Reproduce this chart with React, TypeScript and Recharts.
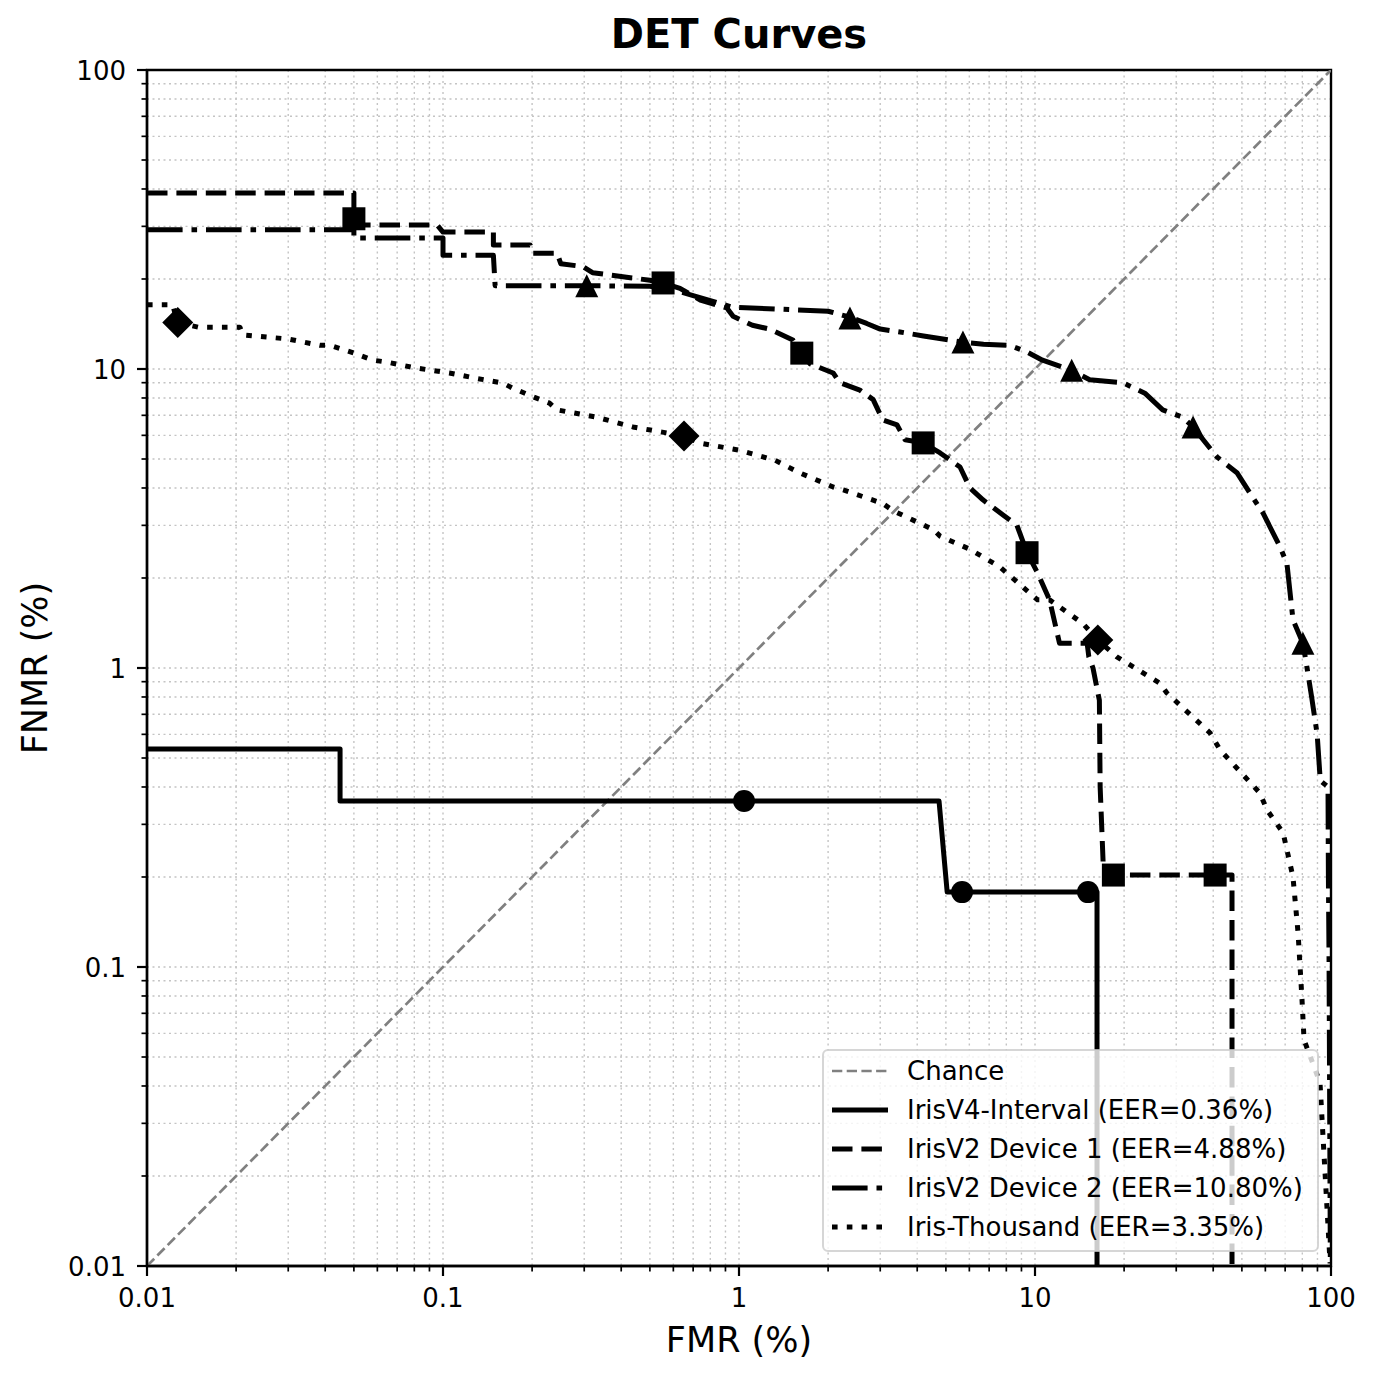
import {
  CartesianGrid,
  ComposedChart,
  Line,
  ReferenceArea,
  Scatter,
  XAxis,
  YAxis,
} from "recharts";

const W = 1378;
const H = 1379;
const FONT = "DejaVu Sans";

// axis ticks (log, both axes the same)
const majorTicks = [0.01, 0.1, 1, 10, 100];
const tickLabels = ["0.01", "0.1", "1", "10", "100"];
const minorSteps = [2, 3, 4, 5, 6, 7, 8, 9];

// chance diagonal
const chanceX = [0.01, 100];
const chanceY = [0.01, 100];

// IrisV4-Interval
const v4X = [0.01, 0.0449, 0.0449, 4.74, 5.05, 16.2, 16.2];
const v4Y = [0.536, 0.536, 0.359, 0.359, 0.178, 0.178, 0.01];
const v4MarkX = [1.04, 5.67, 15.1];
const v4MarkY = [0.359, 0.178, 0.178];

// IrisV2 Device 1
const d1X = [
  0.01, 0.05, 0.05, 0.0955, 0.1, 0.148, 0.148, 0.197, 0.2, 0.243, 0.25, 0.297, 0.32, 0.5,
  0.554, 0.632, 0.74, 0.91, 0.955, 1.11, 1.27, 1.52, 1.63, 1.74, 2.08, 2.19, 2.56, 2.84,
  3.06, 3.42, 3.64, 4.19, 4.78, 5.58, 6.03, 6.67, 7.8, 8.69, 9.4, 10.2, 11.2, 12.1, 15.0,
  15.2, 15.7, 16.5, 16.6, 17.0, 17.3, 40.6, 46.3, 46.3,
];
const d1Y = [
  38.8, 38.8, 30.3, 30.3, 28.7, 28.7, 26.0, 26.0, 24.4, 24.4, 22.5, 22.0, 21.0, 19.8,
  19.4, 18.6, 17.0, 16.0, 15.0, 14.0, 13.6, 12.5, 11.3, 10.4, 9.7, 9.0, 8.5, 7.9,
  6.75, 6.5, 5.8, 5.66, 5.24, 4.7, 4.0, 3.65, 3.25, 3.0, 2.43, 2.08, 1.69, 1.21, 1.21,
  1.09, 1.0, 0.78, 0.4, 0.22, 0.203, 0.203, 0.203, 0.01,
];
const d1MarkX = [0.05, 0.554, 1.63, 4.19, 9.4, 18.4, 40.6];
const d1MarkY = [31.8, 19.4, 11.3, 5.66, 2.43, 0.203, 0.203];

// IrisV2 Device 2
const d2X = [
  0.01, 0.05, 0.05, 0.1, 0.1, 0.148, 0.15, 0.306, 0.5, 0.6, 0.7, 0.95, 1.5, 2.0, 2.37, 2.7,
  3.0, 3.5, 4.2, 5.71, 6.7, 8.2, 9.4, 10.6, 13.3, 15.3, 19.8, 23.5, 27, 31.5, 34.2, 37,
  41.2, 48.1, 53.2, 58.9, 67.3, 71, 74.4, 80.4, 83, 86, 89.8, 92, 97.7, 98, 98.5, 99.5,
];
const d2Y = [
  29.2, 29.2, 27.4, 27.4, 24.0, 24.0, 19.0, 19.0, 18.9, 18.4, 17.6, 16.1, 15.8, 15.6, 14.9,
  14.2, 13.6, 13.3, 12.9, 12.3, 12.1, 12.0, 11.4, 10.7, 9.9, 9.2, 9.0, 8.3, 7.3, 6.9, 6.4,
  5.8, 5.08, 4.5, 3.85, 3.3, 2.54, 2.23, 1.45, 1.21, 1.0, 0.8, 0.6, 0.42, 0.4, 0.2, 0.105,
  0.01,
];
const d2MarkX = [0.306, 2.37, 5.71, 13.3, 34.2, 80.4];
const d2MarkY = [19.0, 14.8, 12.3, 9.9, 6.4, 1.21];

// Iris-Thousand
const thX = [
  0.01, 0.0122, 0.0127, 0.0149, 0.0206, 0.0211, 0.03, 0.0384, 0.0415, 0.05, 0.058, 0.0645,
  0.08, 0.0978, 0.105, 0.13, 0.159, 0.172, 0.2, 0.229, 0.243, 0.33, 0.438, 0.55, 0.652,
  0.738, 1.0, 1.24, 1.3, 1.6, 2.08, 2.25, 3.06, 3.31, 4.54, 4.78, 6.0, 7.6, 10.2, 11.2,
  14.5, 16.3, 18.9, 26.4, 27.9, 39.0, 42.2, 57.5, 60.8, 68.9, 74.4, 77.4, 79.8, 81.1, 91.8,
  99.3,
];
const thY = [
  16.4, 16.4, 14.3, 13.8, 13.8, 13.0, 12.6, 12.0, 12.0, 11.3, 10.7, 10.55, 10.1, 9.8, 9.7,
  9.3, 8.98, 8.63, 8.1, 7.69, 7.3, 6.9, 6.4, 6.15, 5.97, 5.65, 5.35, 5.04, 5.0, 4.5, 4.03,
  3.94, 3.55, 3.36, 2.9, 2.76, 2.5, 2.18, 1.69, 1.69, 1.41, 1.24, 1.09, 0.89, 0.825, 0.607,
  0.532, 0.382, 0.335, 0.281, 0.2, 0.13, 0.078, 0.057, 0.041, 0.0102,
];
const thMarkX = [0.0127, 0.652, 16.3];
const thMarkY = [14.3, 5.97, 1.24];

const seriesLabels = [
  "Chance",
  "IrisV4-Interval (EER=0.36%)",
  "IrisV2 Device 1 (EER=4.88%)",
  "IrisV2 Device 2 (EER=10.80%)",
  "Iris-Thousand (EER=3.35%)",
];

const zip = (xs: number[], ys: number[]) => xs.map((x, i) => ({ x, y: ys[i] }));

const allTicks = majorTicks.flatMap((d, i) =>
  i < majorTicks.length - 1 ? [d, ...minorSteps.map((k) => d * k)] : [d]
);
const majorIndex = (v: number) =>
  majorTicks.findIndex((m) => Math.abs(Math.log10(v) - Math.log10(m)) < 1e-9);

const lineStyles = [
  { stroke: "#808080", width: 2.7, dash: "10.3 4.4" },
  { stroke: "#000", width: 5, dash: undefined },
  { stroke: "#000", width: 5, dash: "20.5 8.9" },
  { stroke: "#000", width: 5, dash: "35.6 8.9 5.6 8.9" },
  { stroke: "#000", width: 5, dash: "5.6 9.2" },
];

function XTick(props: any) {
  const { x, y, payload } = props;
  const idx = majorIndex(payload.value);
  const major = idx >= 0;
  return (
    <g>
      <line x1={x} x2={x} y1={y} y2={y + (major ? 10 : 5.5)} stroke="#000" strokeWidth={major ? 2.2 : 1.7} />
      {major ? (
        <text x={x} y={y + 41} textAnchor="middle" fontSize={26} fontFamily={FONT} fill="#000">
          {tickLabels[idx]}
        </text>
      ) : null}
    </g>
  );
}

function YTick(props: any) {
  const { x, y, payload } = props;
  const idx = majorIndex(payload.value);
  const major = idx >= 0;
  return (
    <g>
      <line x1={x} x2={x - (major ? 10 : 5.5)} y1={y} y2={y} stroke="#000" strokeWidth={major ? 2.2 : 1.7} />
      {major ? (
        <text x={x - 21} y={y + 10} textAnchor="end" fontSize={26} fontFamily={FONT} fill="#000">
          {tickLabels[idx]}
        </text>
      ) : null}
    </g>
  );
}

const circleShape = (p: any) => <circle cx={p.cx} cy={p.cy} r={11} fill="#000" />;
const squareShape = (p: any) => <rect x={p.cx - 11.5} y={p.cy - 11.5} width={23} height={23} fill="#000" />;
const triangleShape = (p: any) => (
  <polygon
    points={`${p.cx},${p.cy - 11.5} ${p.cx - 11.5},${p.cy + 11.5} ${p.cx + 11.5},${p.cy + 11.5}`}
    fill="#000"
  />
);
const diamondShape = (p: any) => (
  <polygon
    points={`${p.cx},${p.cy - 15.5} ${p.cx + 15.5},${p.cy} ${p.cx},${p.cy + 15.5} ${p.cx - 15.5},${p.cy}`}
    fill="#000"
  />
);

// semi-transparent legend box, laid over the plot like matplotlib's
function LegendBox() {
  return (
    <svg width={497} height={203} style={{ display: "block" }}>
      <rect
        x={1}
        y={1}
        width={495}
        height={201}
        rx={5}
        fill="#fff"
        fillOpacity={0.8}
        stroke="#ccc"
        strokeOpacity={0.8}
        strokeWidth={2}
      />
      {seriesLabels.map((label, i) => {
        const cy = 22 + 39 * i;
        const st = lineStyles[i];
        return (
          <g key={label}>
            <line x1={10} x2={66} y1={cy} y2={cy} stroke={st.stroke} strokeWidth={st.width} strokeDasharray={st.dash} />
            <text x={85} y={cy + 9} fontSize={26} fontFamily={FONT} fill="#000">
              {label}
            </text>
          </g>
        );
      })}
    </svg>
  );
}

export default function App() {
  const curves = [
    zip(chanceX, chanceY),
    zip(v4X, v4Y),
    zip(d1X, d1Y),
    zip(d2X, d2Y),
    zip(thX, thY),
  ];
  return (
    <div style={{ position: "absolute", left: 0, top: 0, width: W, height: H, background: "#fff" }}>
      <ComposedChart width={W} height={H} margin={{ top: 70, right: 47, bottom: 0, left: 0 }}>
        <CartesianGrid stroke="#c4c4c4" strokeDasharray="2 3.5" strokeWidth={1.4} />
        <XAxis
          dataKey="x"
          type="number"
          scale="log"
          domain={[0.01, 100]}
          allowDataOverflow
          ticks={allTicks}
          interval={0}
          height={113}
          tickSize={0}
          tickMargin={0}
          tickLine={false}
          axisLine={{ stroke: "#000", strokeWidth: 2.4 }}
          tick={(p: any) => <XTick {...p} />}
        />
        <YAxis
          dataKey="y"
          type="number"
          scale="log"
          domain={[0.01, 100]}
          allowDataOverflow
          ticks={allTicks}
          interval={0}
          width={147}
          tickSize={0}
          tickMargin={0}
          tickLine={false}
          axisLine={{ stroke: "#000", strokeWidth: 2.4 }}
          tick={(p: any) => <YTick {...p} />}
        />
        {curves.map((data, i) => (
          <Line
            key={seriesLabels[i]}
            data={data}
            dataKey="y"
            name={seriesLabels[i]}
            type="linear"
            dot={false}
            activeDot={false}
            stroke={lineStyles[i].stroke}
            strokeWidth={lineStyles[i].width}
            strokeDasharray={lineStyles[i].dash}
            strokeLinejoin="round"
            isAnimationActive={false}
          />
        ))}
        <Scatter data={zip(v4MarkX, v4MarkY)} dataKey="y" shape={circleShape} isAnimationActive={false} />
        <Scatter data={zip(d1MarkX, d1MarkY)} dataKey="y" shape={squareShape} isAnimationActive={false} />
        <Scatter data={zip(d2MarkX, d2MarkY)} dataKey="y" shape={triangleShape} isAnimationActive={false} />
        <Scatter data={zip(thMarkX, thMarkY)} dataKey="y" shape={diamondShape} isAnimationActive={false} />
        <ReferenceArea x1={0.01} x2={100} y1={0.01} y2={100} fill="none" stroke="#000" strokeWidth={2.4} />
        <text x={739} y={48} textAnchor="middle" fontSize={40} fontWeight="bold" fontFamily={FONT} fill="#000">
          DET Curves
        </text>
        <text x={739} y={1352} textAnchor="middle" fontSize={35} fontFamily={FONT} fill="#000">
          FMR (%)
        </text>
        <text
          x={47}
          y={668}
          transform="rotate(-90 47 668)"
          textAnchor="middle"
          fontSize={35}
          fontFamily={FONT}
          fill="#000"
        >
          FNMR (%)
        </text>
      </ComposedChart>
      <div style={{ position: "absolute", left: 822, top: 1049, zIndex: 20 }}>
        <LegendBox />
      </div>
    </div>
  );
}
